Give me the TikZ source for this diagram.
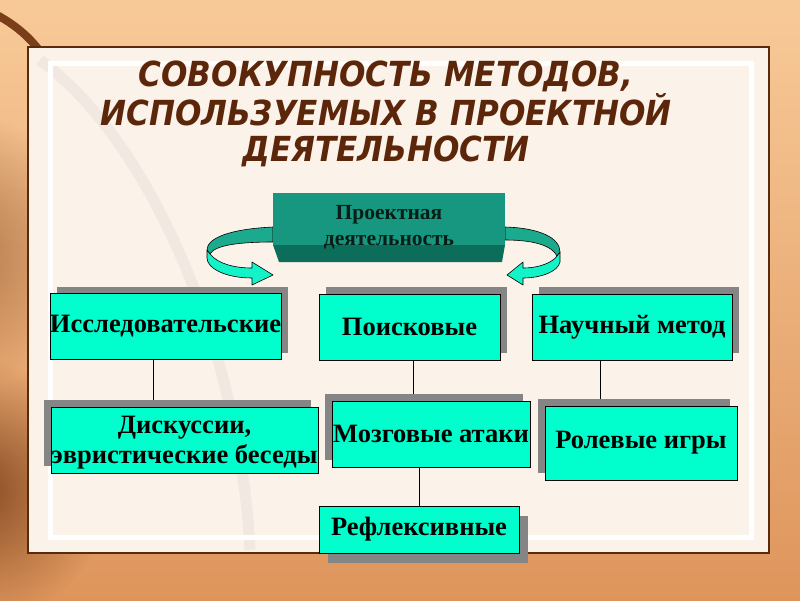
\documentclass[tikz,border=0pt]{standalone}
\usepackage{fontspec}
\setmainfont{Liberation Serif}
\newfontfamily\titlefont{DejaVu Sans Condensed}
\usetikzlibrary{positioning,shadows,calc,fadings}

\definecolor{boxcyan}{HTML}{00FFCC}
\definecolor{shadowgray}{HTML}{858585}
\definecolor{projteal}{HTML}{17977F}
\definecolor{projdark}{HTML}{0C6E5A}
\definecolor{projtext}{HTML}{061E17}
\definecolor{arrowback}{HTML}{1BAA8D}
\definecolor{arrowfront}{HTML}{14F2C8}
\definecolor{titlebrown}{HTML}{5C260A}
\definecolor{framebrown}{HTML}{5A2A0C}
\definecolor{framecream}{HTML}{FBF2E9}
\definecolor{bgtop}{HTML}{F8CA98}
\definecolor{bgbottom}{HTML}{DE955C}
\definecolor{bgdark}{HTML}{7A3E18}

\tikzfading[name=glowfade, inner color=transparent!0, outer color=transparent!100]

\pgfdeclarelayer{bg}
\pgfdeclarelayer{links}
\pgfsetlayers{bg,links,main}

\tikzset{
	method/.style={draw=black, line width=0.8pt, fill=boxcyan, inner sep=0pt,
		align=center, minimum height=66pt, font=\bfseries\fontsize{26.5}{30}\selectfont},
	shadowur/.style={general shadow={fill=shadowgray, shadow xshift=7pt, shadow yshift=7pt}},
	shadowul/.style={general shadow={fill=shadowgray, shadow xshift=-7pt, shadow yshift=7pt}},
	shadowlr/.style={general shadow={fill=shadowgray, shadow xshift=9pt, shadow yshift=-10pt}},
	projbox/.style={minimum width=232pt, minimum height=69pt, inner sep=0pt, align=center,
		text=projtext, font=\bfseries\fontsize{21.5}{26}\selectfont,
		path picture={
			\fill[projteal] (path picture bounding box.north west) rectangle ([yshift=17pt]path picture bounding box.south east);
			\fill[projdark] ([yshift=17pt]path picture bounding box.south west) -- ([yshift=17pt]path picture bounding box.south east)
				-- ([xshift=-3pt]path picture bounding box.south east) -- ([xshift=6pt]path picture bounding box.south west) -- cycle;}},
	ribbon/.style={draw=black, line width=0.6pt, line join=round},
	titletext/.style={align=center, text=titlebrown, font=\titlefont\bfseries\itshape\fontsize{34.5}{36.5}\selectfont}
}

\begin{document}
\begin{tikzpicture}[x=1pt,y=-1pt]
	\useasboundingbox (0,0) rectangle (800,600);
	\begin{pgfonlayer}{bg}
		\shade[top color=bgtop, bottom color=bgbottom] (0,0) rectangle (800,600);
		\fill[bgdark, path fading=glowfade, opacity=.55] (-50,250) circle (140);
		\fill[bgdark, path fading=glowfade, opacity=.85] (-20,490) circle (130);
		\draw[bgdark, line width=8pt, line cap=round] (-5,14) .. controls (22,28) and (42,48) .. (56,78);
		\draw[framebrown, line width=2.5pt, fill=framecream] (28,47) rectangle (769,553);
		\draw[black!25, line width=11pt, opacity=.18] (40,60) .. controls (150,140) and (240,350) .. (250,550);
		\draw[white, line width=5pt] (50,63) rectangle (751,537);
	\end{pgfonlayer}

	\node[titletext] (title) at (386,114) {СОВОКУПНОСТЬ МЕТОДОВ,\\ИСПОЛЬЗУЕМЫХ В ПРОЕКТНОЙ\\ДЕЯТЕЛЬНОСТИ};

	\filldraw[ribbon, fill=arrowback] (273,227) .. controls (230,229) and (207,238) .. (207,250) -- (210,254)
		.. controls (215,245) and (240,242) .. (273,242) -- cycle;
	\filldraw[ribbon, fill=arrowfront] (207,250) -- (210,254) .. controls (218,264) and (235,268) .. (252,268)
		-- (252,262) -- (273,275) -- (252,285) -- (252,278) .. controls (225,278) and (207,268) .. (207,258) -- cycle;
	\filldraw[ribbon, fill=arrowback] (505,227) .. controls (540,228) and (560,238) .. (560,252) -- (557,256)
		.. controls (552,246) and (535,240) .. (505,240) -- cycle;
	\filldraw[ribbon, fill=arrowfront] (560,252) -- (560,262) .. controls (558,272) and (540,278) .. (523,278)
		-- (523,285) -- (507,275) -- (523,262) -- (523,268) .. controls (540,268) and (553,262) .. (557,256) -- cycle;

	\node[projbox] (proj) at (389,227.5) {Проектная\\деятельность};

	\node[method, shadowur, minimum width=229pt] (issl) at (165.5,326.5) {Исследовательские};
	\node[method, shadowur, minimum width=181pt] (poisk) at (409.5,327) {Поисковые};
	\node[method, shadowur, minimum width=200pt] (nauch) at (632,327) {Научный метод};
	\node[method, shadowul, minimum width=267pt, text depth=0pt] (disk) at (184.5,440) {Дискуссии,\\эвристические беседы};
	\node[method, shadowul, minimum width=198pt] (mozg) at (431,434) {Мозговые атаки};
	\node[method, shadowul, minimum width=192pt, minimum height=74pt] (rol) at (641,443) {Ролевые игры};
	\node[method, shadowlr, minimum width=200pt, minimum height=47pt] (refl) at (419,529.5) {Рефлексивные};

	\begin{pgfonlayer}{links}
		\draw[line width=0.8pt] ([xshift=-12.5pt]issl.south) -- ([xshift=-12.5pt]issl.south |- disk.north);
		\draw[line width=0.8pt] ([xshift=3.5pt]poisk.south) -- ([xshift=3.5pt]poisk.south |- mozg.north);
		\draw[line width=0.8pt] ([xshift=-12pt]mozg.south) -- ([xshift=-12pt]mozg.south |- refl.north);
		\draw[line width=0.8pt] ([xshift=-32pt]nauch.south) -- ([xshift=-32pt]nauch.south |- rol.north);
	\end{pgfonlayer}
\end{tikzpicture}
\end{document}
